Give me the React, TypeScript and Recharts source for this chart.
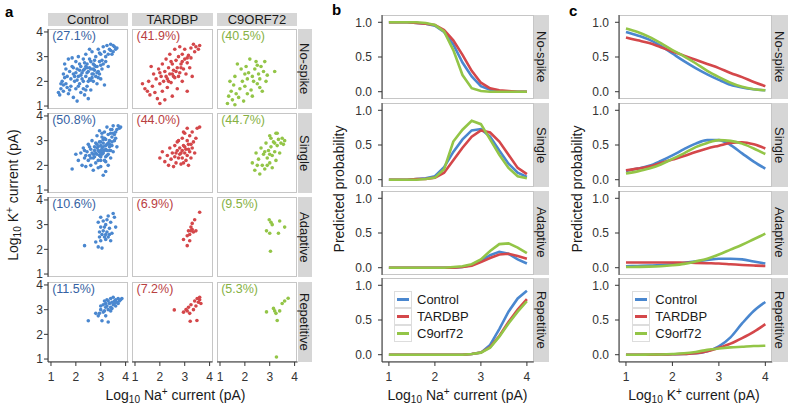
import React from 'react';
import { ScatterChart, Scatter, LineChart, Line, XAxis, YAxis, Legend } from 'recharts';

// ---------------- DATA ----------------
const groups = ['Control', 'TARDBP', 'C9ORF72'];
const rowLabels = ['No-spike', 'Single', 'Adaptive', 'Repetitive'];
const legendLabels = ['Control', 'TARDBP', 'C9orf72'];
const percentLabels = [
  ['(27.1%)', '(41.9%)', '(40.5%)'],
  ['(50.8%)', '(44.0%)', '(44.7%)'],
  ['(10.6%)', '(6.9%)', '(9.5%)'],
  ['(11.5%)', '(7.2%)', '(5.3%)'],
];
const scatterTicks = [1, 2, 3, 4];
const probTicks = [0, 0.5, 1];

// panel a: [log10 Na current, log10 K current]
const controlNoSpike: [number, number][] = [
  [1.3, 1.55], [1.35, 1.45], [1.4, 1.7], [1.45, 2.0], [1.5, 2.3], [1.5, 1.6], [1.55, 2.7], [1.6, 1.9], [1.6, 2.5], [1.65, 2.2],
  [1.7, 1.5], [1.7, 2.9], [1.75, 2.4], [1.8, 1.8], [1.8, 2.1], [1.85, 2.6], [1.9, 1.35], [1.9, 2.3], [1.95, 2.0], [2.0, 2.8],
  [2.0, 1.7], [2.05, 1.2], [2.05, 2.5], [2.1, 2.2], [2.1, 3.0], [2.15, 1.9], [2.2, 2.6], [2.2, 1.55], [2.25, 2.35], [2.3, 2.9],
  [2.3, 2.0], [2.35, 1.45], [2.35, 2.5], [2.4, 2.2], [2.4, 3.1], [2.45, 1.8], [2.45, 2.7], [2.5, 2.4], [2.5, 1.3], [2.55, 2.1],
  [2.55, 2.9], [2.6, 2.5], [2.6, 1.65], [2.65, 3.2], [2.65, 2.3], [2.7, 2.0], [2.7, 2.7], [2.75, 2.45], [2.8, 3.0], [2.8, 2.2],
  [2.85, 1.9], [2.85, 2.6], [2.9, 3.3], [2.9, 2.4], [2.95, 2.8], [3.0, 2.1], [3.0, 3.1], [3.05, 2.5], [3.1, 3.4], [3.1, 2.7],
  [3.15, 1.85], [3.2, 3.0], [3.25, 3.45], [3.3, 2.6], [3.35, 3.3], [3.4, 3.5], [3.45, 3.1], [3.5, 3.2], [3.55, 3.4], [3.6, 3.3],
  [3.65, 3.35], [1.4, 1.9], [1.55, 2.15], [1.75, 1.65], [2.15, 2.7], [2.3, 2.45], [2.6, 2.05], [2.75, 2.85], [2.9, 2.15], [3.0, 2.65],
  [3.2, 2.8], [2.4, 1.65], [2.0, 2.35], [1.85, 2.95], [2.55, 3.3], [2.95, 3.15], [3.3, 3.1], [2.25, 2.1], [2.7, 2.3], [2.45, 2.55],
  [2.2, 2.25], [2.35, 2.75], [2.5, 2.0], [2.6, 2.8], [2.7, 2.5], [2.8, 2.6], [2.05, 2.05], [1.9, 2.55], [2.15, 2.45], [2.4, 2.6],
  [2.55, 2.55], [2.65, 2.15], [2.85, 2.35], [3.05, 2.85], [3.15, 3.2], [1.65, 1.75], [1.5, 1.85], [2.3, 1.7], [2.45, 2.35], [2.75, 2.65],
  [3.4, 3.25], [3.5, 3.45], [2.95, 2.3], [1.95, 2.2], [2.1, 1.8],
];
const tardbpNoSpike: [number, number][] = [
  [1.3, 1.9], [1.4, 1.7], [1.5, 1.6], [1.55, 2.0], [1.6, 1.45], [1.7, 1.8], [1.75, 2.3], [1.8, 1.55], [1.85, 2.1], [1.9, 1.3],
  [1.95, 2.5], [2.0, 1.9], [2.0, 1.1], [2.05, 2.2], [2.1, 2.7], [2.1, 1.6], [2.15, 2.0], [2.2, 2.4], [2.2, 1.25], [2.25, 2.9],
  [2.3, 2.1], [2.3, 1.75], [2.35, 2.55], [2.4, 2.3], [2.4, 3.1], [2.45, 1.95], [2.5, 2.7], [2.5, 1.4], [2.55, 2.45], [2.6, 3.3],
  [2.6, 2.15], [2.65, 2.85], [2.7, 2.55], [2.7, 1.7], [2.75, 3.0], [2.8, 2.35], [2.8, 3.4], [2.85, 2.7], [2.9, 2.0], [2.9, 3.1],
  [2.95, 2.5], [3.0, 2.9], [3.0, 3.3], [3.05, 2.3], [3.1, 2.75], [3.1, 1.6], [3.15, 3.05], [3.2, 2.55], [3.25, 3.35], [3.3, 2.2],
  [3.35, 3.5], [3.4, 3.2], [3.45, 3.4], [3.55, 3.3], [3.6, 3.45], [2.35, 2.0], [2.55, 2.2], [2.75, 2.2], [2.45, 2.8], [1.65, 2.6],
  [2.0, 2.35], [3.25, 2.95], [2.85, 2.55], [2.25, 2.2], [2.5, 2.3], [2.65, 2.4], [2.9, 2.8], [3.1, 2.95],
];
const c9NoSpike: [number, number][] = [
  [1.3, 1.1], [1.35, 1.4], [1.45, 1.6], [1.5, 1.25], [1.55, 1.85], [1.6, 2.2], [1.65, 1.5], [1.7, 2.7], [1.75, 1.35], [1.8, 1.7],
  [1.85, 2.5], [1.9, 2.0], [1.95, 1.2], [2.0, 1.8], [2.05, 2.6], [2.1, 2.1], [2.1, 1.5], [2.15, 2.35], [2.2, 2.9], [2.25, 1.65],
  [2.3, 2.2], [2.35, 2.0], [2.4, 2.5], [2.45, 2.8], [2.5, 1.9], [2.55, 2.3], [2.6, 2.1], [2.65, 2.6], [2.7, 1.6], [2.75, 2.4],
  [2.8, 2.8], [2.85, 2.0], [2.9, 2.25], [3.2, 2.4], [1.4, 2.0], [2.0, 2.3], [2.3, 1.4], [2.6, 1.75], [1.6, 1.05], [2.5, 2.65],
];
const controlSingle: [number, number][] = [
  [1.85, 1.85], [2.0, 2.45], [2.1, 2.2], [2.2, 2.5], [2.25, 2.0], [2.3, 2.7], [2.35, 2.3], [2.4, 1.95], [2.45, 2.55], [2.5, 2.2],
  [2.5, 2.85], [2.55, 2.4], [2.6, 2.0], [2.6, 2.65], [2.65, 3.0], [2.7, 2.3], [2.7, 1.8], [2.75, 2.6], [2.8, 2.9], [2.8, 2.1],
  [2.85, 3.2], [2.85, 2.45], [2.9, 2.75], [2.9, 2.2], [2.95, 3.4], [2.95, 2.55], [3.0, 2.95], [3.0, 1.95], [3.0, 2.35], [3.05, 2.7],
  [3.05, 3.15], [3.1, 1.6], [3.1, 2.5], [3.1, 2.9], [3.15, 3.35], [3.15, 2.2], [3.2, 2.65], [3.2, 3.05], [3.25, 2.4], [3.25, 2.85],
  [3.3, 3.25], [3.3, 2.0], [3.35, 2.6], [3.35, 3.0], [3.4, 3.45], [3.4, 2.3], [3.45, 2.8], [3.45, 3.15], [3.5, 3.6], [3.5, 2.55],
  [3.55, 3.0], [3.6, 3.35], [3.65, 2.75], [3.7, 3.6], [3.75, 3.5], [3.8, 3.55], [3.2, 1.75], [2.9, 1.9], [3.0, 2.6], [3.1, 2.75],
  [2.95, 2.4], [3.15, 2.6], [3.25, 3.55], [2.75, 2.35], [2.55, 2.75], [3.35, 2.85], [3.05, 3.3], [2.65, 2.5], [3.4, 2.6], [2.85, 2.7],
  [3.6, 3.1], [2.4, 2.4], [3.55, 3.25], [3.2, 2.35], [2.95, 2.95], [3.1, 3.05], [3.3, 2.45], [2.8, 2.5], [3.45, 2.95], [3.0, 2.8],
  [3.0, 2.5], [3.1, 2.6], [3.2, 2.8], [3.3, 2.9], [2.9, 2.6], [3.05, 2.45], [3.25, 2.6], [3.35, 2.75], [2.7, 2.45], [2.85, 2.85],
  [3.15, 3.1], [3.4, 3.3], [3.5, 3.3], [2.6, 2.3], [3.0, 2.2], [3.2, 2.15], [2.75, 2.75], [3.45, 3.45], [3.65, 3.45], [2.35, 2.6],
];
const tardbpSingle: [number, number][] = [
  [2.0, 2.3], [2.1, 2.55], [2.2, 2.15], [2.3, 2.4], [2.35, 2.0], [2.4, 2.7], [2.45, 2.25], [2.5, 2.5], [2.55, 1.95], [2.6, 2.8],
  [2.6, 2.35], [2.65, 2.1], [2.7, 2.6], [2.75, 3.0], [2.75, 2.3], [2.8, 2.7], [2.85, 2.05], [2.85, 2.5], [2.9, 3.1], [2.9, 2.3],
  [2.95, 2.8], [3.0, 2.5], [3.0, 3.3], [3.05, 2.2], [3.05, 2.65], [3.1, 3.0], [3.1, 2.4], [3.15, 2.0], [3.15, 2.85], [3.2, 3.2],
  [3.2, 2.55], [3.25, 2.3], [3.3, 2.7], [3.3, 3.35], [3.35, 2.95], [3.4, 2.5], [3.45, 3.1], [3.5, 3.5], [3.6, 3.55], [2.95, 3.35],
  [2.7, 2.95], [3.1, 3.5], [2.65, 2.5], [2.95, 2.1], [3.25, 2.85], [2.8, 2.45], [3.0, 2.75], [3.15, 2.65], [2.9, 2.6],
];
const c9Single: [number, number][] = [
  [2.3, 2.1], [2.4, 1.8], [2.45, 2.5], [2.55, 2.25], [2.6, 1.65], [2.65, 2.7], [2.7, 2.0], [2.75, 2.45], [2.8, 1.85], [2.85, 2.9],
  [2.9, 2.3], [2.95, 2.6], [3.0, 2.1], [3.0, 3.2], [3.05, 2.75], [3.1, 2.4], [3.1, 1.9], [3.15, 2.95], [3.2, 2.55], [3.25, 3.3],
  [3.25, 2.2], [3.3, 2.8], [3.35, 3.05], [3.4, 2.5], [3.45, 2.9], [3.5, 3.1], [3.55, 2.85], [3.6, 3.0], [2.8, 2.55], [3.0, 2.45],
  [3.2, 2.9], [2.9, 2.0], [3.3, 3.3], [2.5, 2.0], [3.05, 3.1],
];
const controlAdaptive: [number, number][] = [
  [2.35, 2.15], [2.8, 2.3], [2.9, 2.1], [3.0, 2.35], [3.05, 2.6], [2.95, 2.7], [3.0, 2.9], [2.9, 3.1], [3.0, 3.3], [3.1, 2.75],
  [3.1, 3.15], [3.15, 2.5], [3.2, 2.6], [3.2, 3.0], [3.25, 2.7], [3.3, 3.35], [3.3, 2.5], [3.35, 2.85], [3.4, 3.1], [3.45, 2.65],
  [3.5, 3.45], [3.55, 3.3], [3.4, 2.35], [3.2, 2.4], [3.05, 2.05], [3.15, 2.9], [2.95, 2.5], [3.35, 2.6], [3.6, 2.9], [3.25, 3.2],
];
const tardbpAdaptive: [number, number][] = [
  [2.95, 2.4], [3.1, 2.15], [3.1, 2.55], [3.15, 2.75], [3.2, 2.6], [3.25, 2.9], [3.3, 3.05], [3.3, 2.8], [3.35, 2.7], [3.4, 3.2],
  [3.45, 2.75], [3.2, 2.35], [3.6, 3.5], [3.25, 2.75],
];
const c9Adaptive: [number, number][] = [
  [2.87, 2.75], [2.98, 3.2], [3.05, 3.1], [3.1, 3.0], [3.0, 2.65], [3.4, 3.15], [3.6, 2.9], [3.35, 2.65], [3.03, 1.92],
];
const controlRepetitive: [number, number][] = [
  [2.5, 2.55], [2.8, 2.85], [2.9, 2.75], [3.0, 3.0], [3.05, 2.55], [3.1, 3.2], [3.1, 2.9], [3.15, 3.35], [3.2, 3.1], [3.2, 2.75],
  [3.25, 3.4], [3.3, 3.0], [3.3, 2.5], [3.35, 3.25], [3.4, 3.45], [3.4, 3.1], [3.45, 3.3], [3.5, 3.2], [3.5, 3.5], [3.55, 3.35],
  [3.6, 3.4], [3.6, 3.15], [3.65, 3.3], [3.7, 3.45], [3.75, 3.35], [3.8, 3.4], [3.85, 3.45], [3.2, 3.25], [3.3, 3.35], [3.45, 3.05],
  [3.0, 3.15], [3.15, 2.95], [3.55, 3.25], [3.7, 3.25], [3.25, 3.15], [3.4, 2.95], [2.95, 2.85],
];
const tardbpRepetitive: [number, number][] = [
  [2.58, 2.99], [2.95, 2.9], [3.05, 3.0], [3.15, 3.1], [3.2, 2.85], [3.25, 3.2], [3.22, 2.53], [3.35, 3.0], [3.4, 3.35], [3.45, 3.15],
  [3.5, 3.45], [3.49, 2.56], [3.55, 3.3], [3.6, 3.4], [3.65, 3.25], [3.6, 3.5], [3.1, 2.95],
];
const c9Repetitive: [number, number][] = [
  [2.87, 2.91], [3.15, 3.05], [3.2, 2.95], [3.25, 2.85], [3.4, 2.95], [3.3, 2.56], [3.5, 3.25], [3.6, 3.35], [3.74, 3.46], [3.27, 1.08],
];

// panel b: predicted probability vs log10 Na current
const naGrid = [1.0, 1.2, 1.4, 1.6, 1.8, 2.0, 2.2, 2.4, 2.6, 2.8, 3.0, 3.2, 3.4, 3.6, 3.8, 4.0];
const bNoSpikeControl = [1, 1, 1, 0.99, 0.98, 0.95, 0.86, 0.68, 0.42, 0.22, 0.08, 0.03, 0.01, 0, 0, 0];
const bNoSpikeTardbp = [1, 1, 1, 0.99, 0.98, 0.96, 0.89, 0.74, 0.53, 0.3, 0.13, 0.05, 0.02, 0.01, 0, 0];
const bNoSpikeC9 = [1, 1, 1, 1, 0.99, 0.96, 0.87, 0.6, 0.24, 0.05, 0.01, 0, 0, 0, 0, 0];
const bSingleControl = [0, 0, 0, 0.01, 0.02, 0.05, 0.18, 0.4, 0.58, 0.71, 0.73, 0.62, 0.42, 0.23, 0.1, 0.04];
const bSingleTardbp = [0, 0, 0, 0.01, 0.01, 0.03, 0.1, 0.28, 0.46, 0.62, 0.71, 0.68, 0.55, 0.36, 0.17, 0.08];
const bSingleC9 = [0, 0, 0, 0, 0.01, 0.03, 0.15, 0.55, 0.72, 0.85, 0.8, 0.58, 0.36, 0.17, 0.05, 0.02];
const bAdaptiveControl = [0, 0, 0, 0, 0, 0, 0, 0, 0.01, 0.04, 0.1, 0.18, 0.23, 0.2, 0.12, 0.06];
const bAdaptiveTardbp = [0, 0, 0, 0, 0, 0, 0, 0, 0.01, 0.03, 0.08, 0.14, 0.19, 0.2, 0.17, 0.13];
const bAdaptiveC9 = [0, 0, 0, 0, 0, 0, 0, 0.01, 0.02, 0.05, 0.12, 0.24, 0.34, 0.35, 0.29, 0.21];
const bRepetitiveControl = [0, 0, 0, 0, 0, 0, 0, 0, 0, 0.01, 0.03, 0.14, 0.37, 0.62, 0.81, 0.92];
const bRepetitiveTardbp = [0, 0, 0, 0, 0, 0, 0, 0, 0, 0.01, 0.03, 0.11, 0.27, 0.47, 0.65, 0.8];
const bRepetitiveC9 = [0, 0, 0, 0, 0, 0, 0, 0, 0, 0.01, 0.03, 0.1, 0.26, 0.45, 0.62, 0.77];

// panel c: predicted probability vs log10 K current
const kGrid = [1.0, 1.25, 1.5, 1.75, 2.0, 2.25, 2.5, 2.75, 3.0, 3.25, 3.5, 3.75, 4.0];
const cNoSpikeControl = [0.86, 0.81, 0.75, 0.66, 0.55, 0.44, 0.34, 0.25, 0.17, 0.1, 0.06, 0.035, 0.02];
const cNoSpikeTardbp = [0.78, 0.74, 0.7, 0.64, 0.58, 0.52, 0.46, 0.4, 0.34, 0.27, 0.21, 0.14, 0.08];
const cNoSpikeC9 = [0.91, 0.86, 0.79, 0.7, 0.6, 0.51, 0.41, 0.3, 0.21, 0.13, 0.07, 0.035, 0.02];
const cSingleControl = [0.125, 0.16, 0.2, 0.27, 0.35, 0.44, 0.52, 0.57, 0.57, 0.5, 0.38, 0.26, 0.16];
const cSingleTardbp = [0.135, 0.16, 0.19, 0.24, 0.29, 0.34, 0.4, 0.45, 0.49, 0.53, 0.54, 0.51, 0.45];
const cSingleC9 = [0.09, 0.12, 0.16, 0.22, 0.3, 0.38, 0.47, 0.53, 0.57, 0.56, 0.52, 0.45, 0.37];
const cAdaptiveControl = [0.02, 0.025, 0.03, 0.04, 0.05, 0.07, 0.09, 0.11, 0.13, 0.13, 0.12, 0.09, 0.06];
const cAdaptiveTardbp = [0.075, 0.075, 0.075, 0.075, 0.075, 0.072, 0.07, 0.065, 0.06, 0.05, 0.04, 0.032, 0.025];
const cAdaptiveC9 = [0.01, 0.012, 0.015, 0.022, 0.035, 0.055, 0.09, 0.13, 0.19, 0.26, 0.33, 0.41, 0.49];
const cRepetitiveControl = [0, 0, 0, 0.003, 0.006, 0.01, 0.02, 0.05, 0.12, 0.25, 0.45, 0.63, 0.76];
const cRepetitiveTardbp = [0, 0, 0, 0.003, 0.006, 0.01, 0.02, 0.05, 0.1, 0.16, 0.24, 0.33, 0.44];
const cRepetitiveC9 = [0, 0, 0.002, 0.004, 0.01, 0.02, 0.04, 0.07, 0.09, 0.105, 0.115, 0.125, 0.13];

// ---------------- STYLE / LAYOUT ----------------
const FONT = '"Liberation Sans", Arial, Helvetica, sans-serif';
const COLORS = ['#4a87cf', '#d4474a', '#93c547'];
const TEXT_COLORS = ['#3562a3', '#b9403f', '#86b143'];
const STRIP_BG = '#d6d6d6';
const BORDER = '#c6c6c6';
const AXIS = '#333333';

const A_COLS = [47.7, 132, 216.7];
const A_W = 80.6;
const A_ROWS = [28.6, 113, 197.3, 281.8];
const A_H = 80;
const A_DOMAIN: [number, number] = [0.88, 4.12];

const B_X = 382;
const B_W = 151.8;
const C_X = 618.5;
const C_W = 153.3;
const L_ROWS = [15, 102.8, 190.5, 278.3];
const L_H = 84;
const L_XDOMAIN: [number, number] = [0.85, 4.15];
const L_YDOMAIN: [number, number] = [-0.105, 1.105];

const scatterGrid = [
  [controlNoSpike, tardbpNoSpike, c9NoSpike],
  [controlSingle, tardbpSingle, c9Single],
  [controlAdaptive, tardbpAdaptive, c9Adaptive],
  [controlRepetitive, tardbpRepetitive, c9Repetitive],
];
const bSeries = [
  [bNoSpikeControl, bNoSpikeTardbp, bNoSpikeC9],
  [bSingleControl, bSingleTardbp, bSingleC9],
  [bAdaptiveControl, bAdaptiveTardbp, bAdaptiveC9],
  [bRepetitiveControl, bRepetitiveTardbp, bRepetitiveC9],
];
const cSeries = [
  [cNoSpikeControl, cNoSpikeTardbp, cNoSpikeC9],
  [cSingleControl, cSingleTardbp, cSingleC9],
  [cAdaptiveControl, cAdaptiveTardbp, cAdaptiveC9],
  [cRepetitiveControl, cRepetitiveTardbp, cRepetitiveC9],
];

const tickStyle = { fontSize: 12, fill: '#333', fontFamily: FONT };

function ScatterPanel(props: { left: number; top: number; pts: [number, number][]; color: string; showX: boolean; showY: boolean }) {
  const { left, top, pts, color, showX, showY } = props;
  const yW = showY ? 40 : 0;
  const xH = showX ? 30 : 0;
  const data = pts.map(([x, y]) => ({ x, y }));
  const shape = (p: any) => <circle cx={p.cx} cy={p.cy} r={1.8} fill={color} />;
  return (
    <>
      <div style={{ position: 'absolute', left, top, width: A_W, height: A_H, border: `1px solid ${BORDER}`, boxSizing: 'border-box', background: '#fff' }} />
      <div style={{ position: 'absolute', left: left - yW, top }}>
        <ScatterChart width={A_W + yW} height={A_H + xH} margin={{ top: 0, right: 0, bottom: 0, left: 0 }}>
          <XAxis type="number" dataKey="x" domain={A_DOMAIN} ticks={scatterTicks} hide={!showX} height={30}
            allowDataOverflow tick={tickStyle} tickSize={4} tickMargin={6} stroke={AXIS} interval={0} />
          <YAxis type="number" dataKey="y" domain={A_DOMAIN} ticks={scatterTicks} hide={!showY} width={40}
            allowDataOverflow tick={tickStyle} tickSize={4} tickMargin={1} stroke={AXIS} interval={0} />
          <Scatter data={data} fill={color} shape={shape} isAnimationActive={false} />
        </ScatterChart>
      </div>
    </>
  );
}

function LegendBox() {
  return (
    <div style={{ fontFamily: FONT, fontSize: 13, background: '#fff', lineHeight: '17px' }}>
      {legendLabels.map((name, i) => (
        <div key={name} style={{ display: 'flex', alignItems: 'center', height: 17.2 }}>
          <div style={{ width: 18, height: 17.2, border: '1px solid #dddddd', boxSizing: 'border-box', display: 'flex', alignItems: 'center', justifyContent: 'center', background: '#fff' }}>
            <div style={{ width: 12, height: 3, background: COLORS[i] }} />
          </div>
          <span style={{ marginLeft: 5, color: '#1a1a1a', whiteSpace: 'nowrap' }}>{name}</span>
        </div>
      ))}
    </div>
  );
}

function LinePanel(props: { left: number; top: number; width: number; grid: number[]; series: number[][]; showX: boolean; curve: 'linear' | 'monotone'; legendLeft?: number }) {
  const { left, top, width, grid, series, showX, curve, legendLeft } = props;
  const yW = 40;
  const xH = showX ? 30 : 0;
  const data = grid.map((x, i) => ({ x, control: series[0][i], tardbp: series[1][i], c9: series[2][i] }));
  const keys = ['control', 'tardbp', 'c9'];
  return (
    <>
      <div style={{ position: 'absolute', left, top, width, height: L_H, border: `1px solid ${BORDER}`, boxSizing: 'border-box', background: '#fff' }} />
      <div style={{ position: 'absolute', left: left - yW, top }}>
        <LineChart width={width + yW} height={L_H + xH} data={data} margin={{ top: 0, right: 0, bottom: 0, left: 0 }}>
          <XAxis type="number" dataKey="x" domain={L_XDOMAIN} ticks={scatterTicks} hide={!showX} height={30}
            allowDataOverflow tick={tickStyle} tickSize={4} tickMargin={6} stroke={AXIS} interval={0} />
          <YAxis type="number" domain={L_YDOMAIN} ticks={probTicks} width={yW} allowDataOverflow
            tick={tickStyle} tickSize={4} tickMargin={6} stroke={AXIS} interval={0}
            tickFormatter={(v: number) => v.toFixed(1)} />
          {keys.map((k, i) => (
            <Line key={k} dataKey={k} type={curve} stroke={COLORS[i]} strokeWidth={2.6} dot={false} isAnimationActive={false} />
          ))}
          {legendLeft !== undefined && (
            <Legend layout="vertical" align="center" verticalAlign="middle" width={80} height={52}
              wrapperStyle={{ left: legendLeft, top: 12.4, width: 80, height: 52 }} content={() => <LegendBox />} />
          )}
        </LineChart>
      </div>
    </>
  );
}

function Strip(props: { left: number; top: number; width: number; height: number; label: string; vertical?: boolean }) {
  const { left, top, width, height, label, vertical } = props;
  return (
    <div style={{
      position: 'absolute', left, top, width, height, background: STRIP_BG, display: 'flex',
      alignItems: 'center', justifyContent: 'center', fontFamily: FONT, fontSize: 13, color: '#1a1a1a',
      writingMode: vertical ? 'vertical-rl' : undefined, whiteSpace: 'nowrap', lineHeight: 1,
    }}>{label}</div>
  );
}

function AxisTitle(props: { cx: number; cy: number; rotate?: boolean; children: React.ReactNode }) {
  const { cx, cy, rotate, children } = props;
  return (
    <div style={{
      position: 'absolute', left: cx, top: cy, transform: `translate(-50%, -50%)${rotate ? ' rotate(-90deg)' : ''}`,
      fontFamily: FONT, fontSize: 14, color: '#1a1a1a', whiteSpace: 'nowrap', lineHeight: '16px',
    }}>{children}</div>
  );
}

const subStyle: React.CSSProperties = { fontSize: '0.72em', verticalAlign: '-0.3em', lineHeight: 0 };
const supStyle: React.CSSProperties = { fontSize: '0.72em', verticalAlign: '0.5em', lineHeight: 0 };

export default function App() {
  return (
    <div style={{ position: 'absolute', left: 0, top: 0, width: 788, height: 406, background: '#fff', overflow: 'hidden', fontFamily: FONT }}>
      <style>{'.recharts-surface { overflow: visible; } .recharts-wrapper { overflow: visible; }'}</style>
      {/* panel letters */}
      <div style={{ position: 'absolute', left: 5, top: 3, fontWeight: 'bold', fontSize: 15, fontFamily: FONT }}>a</div>
      <div style={{ position: 'absolute', left: 332, top: 1, fontWeight: 'bold', fontSize: 15, fontFamily: FONT }}>b</div>
      <div style={{ position: 'absolute', left: 569, top: 2, fontWeight: 'bold', fontSize: 15, fontFamily: FONT }}>c</div>

      {/* panel a */}
      {groups.map((g, ci) => (
        <Strip key={g} left={A_COLS[ci]} top={13.3} width={A_W} height={13.2} label={g} />
      ))}
      {rowLabels.map((r, ri) => (
        <Strip key={'as' + r} left={297.6} top={A_ROWS[ri]} width={14.6} height={A_H} label={r} vertical />
      ))}
      {scatterGrid.map((row, ri) =>
        row.map((pts, ci) => (
          <ScatterPanel key={`s${ri}${ci}`} left={A_COLS[ci]} top={A_ROWS[ri]} pts={pts} color={COLORS[ci]}
            showX={ri === 3} showY={ci === 0} />
        ))
      )}
      {percentLabels.map((row, ri) =>
        row.map((t, ci) => (
          <div key={`p${ri}${ci}`} style={{ position: 'absolute', left: A_COLS[ci] + 4.5, top: A_ROWS[ri], lineHeight: '14px', fontSize: 12.5, fontFamily: FONT, color: TEXT_COLORS[ci] }}>{t}</div>
        ))
      )}
      <AxisTitle cx={13} cy={195} rotate>Log<span style={subStyle}>10</span> K<span style={supStyle}>+</span> current (pA)</AxisTitle>
      <AxisTitle cx={175.5} cy={395}>Log<span style={subStyle}>10</span> Na<span style={supStyle}>+</span> current (pA)</AxisTitle>

      {/* panel b */}
      {bSeries.map((s, ri) => (
        <LinePanel key={'b' + ri} left={B_X} top={L_ROWS[ri]} width={B_W} grid={naGrid} series={s} showX={ri === 3}
          curve="linear" legendLeft={ri === 3 ? 52 : undefined} />
      ))}
      {rowLabels.map((r, ri) => (
        <Strip key={'bs' + r} left={534.2} top={L_ROWS[ri]} width={15.3} height={L_H} label={r} vertical />
      ))}
      <AxisTitle cx={339} cy={188.5} rotate>Predicted probability</AxisTitle>
      <AxisTitle cx={457.5} cy={395}>Log<span style={subStyle}>10</span> Na<span style={supStyle}>+</span> current (pA)</AxisTitle>

      {/* panel c */}
      {cSeries.map((s, ri) => (
        <LinePanel key={'c' + ri} left={C_X} top={L_ROWS[ri]} width={C_W} grid={kGrid} series={s} showX={ri === 3}
          curve="monotone" legendLeft={ri === 3 ? 53.8 : undefined} />
      ))}
      {rowLabels.map((r, ri) => (
        <Strip key={'cs' + r} left={772.2} top={L_ROWS[ri]} width={15.5} height={L_H} label={r} vertical />
      ))}
      <AxisTitle cx={576.5} cy={188.5} rotate>Predicted probability</AxisTitle>
      <AxisTitle cx={694} cy={395}>Log<span style={subStyle}>10</span> K<span style={supStyle}>+</span> current (pA)</AxisTitle>
    </div>
  );
}
